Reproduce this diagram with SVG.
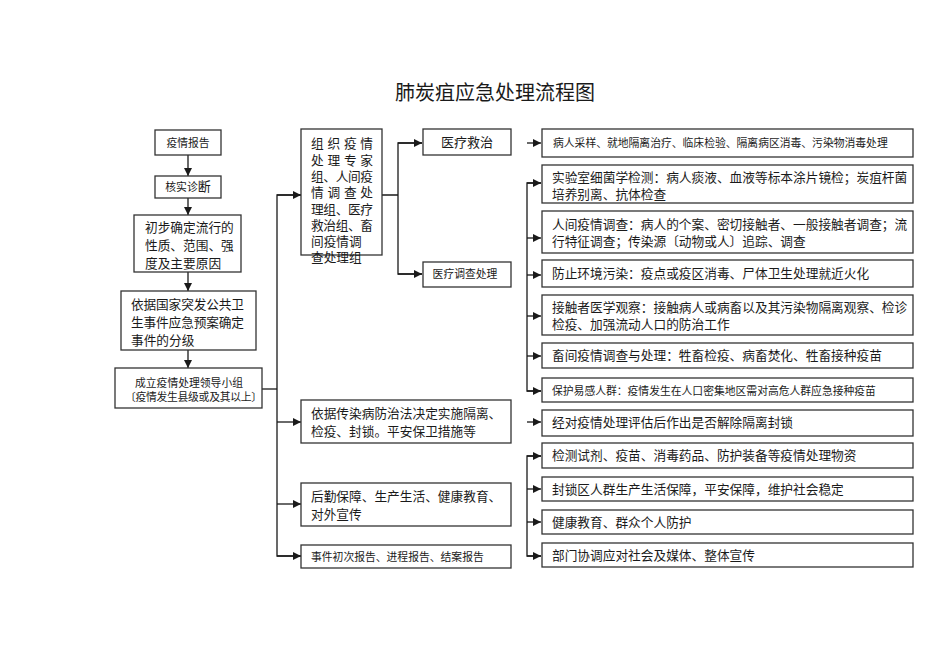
<svg xmlns="http://www.w3.org/2000/svg" width="950" height="672" viewBox="0 0 950 672">
<style>
text{font-family:"Liberation Sans","Noto Sans CJK SC",sans-serif;fill:#1a1a1a}
.b{fill:#fff;stroke:#333;stroke-width:1.3}
.c{fill:none;stroke:#1a1a1a;stroke-width:1.3}
.t13{font-size:12.7px}
.t11{font-size:10.8px}
.mid{text-anchor:middle}
</style>
<defs>
<marker id="ah" markerUnits="userSpaceOnUse" markerWidth="9" markerHeight="8" refX="8" refY="4" orient="auto">
<path d="M0,0 L8,4 L0,8 Z" fill="#1a1a1a"/>
</marker>
</defs>
<rect width="950" height="672" fill="#fff"/>
<text x="495" y="100" class="mid" style="font-size:20px">肺炭疽应急处理流程图</text>

<g id="connectors">
<line class="c" x1="188" y1="155" x2="188" y2="176" marker-end="url(#ah)"/>
<line class="c" x1="188" y1="198" x2="188" y2="215" marker-end="url(#ah)"/>
<line class="c" x1="188" y1="272" x2="188" y2="291" marker-end="url(#ah)"/>
<line class="c" x1="188" y1="350" x2="188" y2="368" marker-end="url(#ah)"/>
<line class="c" x1="262" y1="389" x2="277" y2="389"/>
<path class="c" d="M301,195 H277 V556 H301"/>
<line class="c" x1="277" y1="195" x2="301" y2="195" marker-end="url(#ah)"/>
<line class="c" x1="277" y1="422" x2="301" y2="422" marker-end="url(#ah)"/>
<line class="c" x1="277" y1="504" x2="301" y2="504" marker-end="url(#ah)"/>
<line class="c" x1="277" y1="556" x2="301" y2="556" marker-end="url(#ah)"/>
<path class="c" d="M382,195 H398 M422,143 H398 V274 H422"/>
<line class="c" x1="398" y1="143" x2="422" y2="143" marker-end="url(#ah)"/>
<line class="c" x1="398" y1="274" x2="422" y2="274" marker-end="url(#ah)"/>
<line class="c" x1="527" y1="143" x2="541" y2="143" marker-end="url(#ah)"/>
<path class="c" d="M541,183 H527 V391 H541"/>
<line class="c" x1="527" y1="183" x2="541" y2="183" marker-end="url(#ah)"/>
<line class="c" x1="527" y1="238" x2="541" y2="238" marker-end="url(#ah)"/>
<line class="c" x1="527" y1="275" x2="541" y2="275" marker-end="url(#ah)"/>
<line class="c" x1="527" y1="316" x2="541" y2="316" marker-end="url(#ah)"/>
<line class="c" x1="527" y1="356" x2="541" y2="356" marker-end="url(#ah)"/>
<line class="c" x1="527" y1="391" x2="541" y2="391" marker-end="url(#ah)"/>
<line class="c" x1="527" y1="422" x2="541" y2="422" marker-end="url(#ah)"/>
<path class="c" d="M541,456 H527 V556 H541"/>
<line class="c" x1="527" y1="456" x2="541" y2="456" marker-end="url(#ah)"/>
<line class="c" x1="527" y1="489" x2="541" y2="489" marker-end="url(#ah)"/>
<line class="c" x1="527" y1="522" x2="541" y2="522" marker-end="url(#ah)"/>
<line class="c" x1="527" y1="556" x2="541" y2="556" marker-end="url(#ah)"/>
</g>

<g id="n-report"><rect class="b" x="155" y="130" width="66" height="25"/><text x="188" y="146.5" class="t11 mid">疫情报告</text></g>
<g id="n-diagnose"><rect class="b" x="155" y="176" width="66" height="22"/><text x="188" y="191" class="t11 mid">核实诊<tspan style="font-size:13px">断</tspan></text></g>
<g id="n-prelim"><rect class="b" x="134" y="215" width="107" height="57"/>
<text class="t13" x="145" y="232">初步确定流行的</text><text class="t13" x="145" y="250">性质、范围、强</text><text class="t13" x="145" y="268">度及主要原因</text></g>
<g id="n-grade"><rect class="b" x="121" y="291" width="135" height="59"/>
<text class="t13" x="131" y="309" textLength="113" lengthAdjust="spacing">依据国家突发公共卫</text><text class="t13" x="131" y="327" textLength="113" lengthAdjust="spacing">生事件应急预案确定</text><text class="t13" x="131" y="345">事件的分级</text></g>
<g id="n-leader"><rect class="b" x="115" y="368" width="147" height="40"/>
<text class="t11 mid" x="189" y="387">成立疫情处理领导小组</text><text class="t11" x="125" y="401" textLength="137" lengthAdjust="spacing">〔疫情发生县级或及其以上〕</text></g>

<g id="n-groups"><rect class="b" x="301" y="129" width="81" height="126"/>
<text class="t13" x="311" y="148" textLength="62" lengthAdjust="spacing">组织疫情</text>
<text class="t13" x="311" y="165" textLength="62" lengthAdjust="spacing">处理专家</text>
<text class="t13" x="311" y="181" textLength="62" lengthAdjust="spacing">组、人间疫</text>
<text class="t13" x="311" y="197" textLength="62" lengthAdjust="spacing">情调查处</text>
<text class="t13" x="311" y="214" textLength="62" lengthAdjust="spacing">理组、医疗</text>
<text class="t13" x="311" y="230" textLength="62" lengthAdjust="spacing">救治组、畜</text>
<text class="t13" x="311" y="246">间疫情调</text>
<text class="t13" x="311" y="262">查处理组</text></g>
<g id="n-treat"><rect class="b" x="423" y="129" width="88" height="26"/><text class="mid" style="font-size:13px" x="467" y="147">医疗救治</text></g>
<g id="n-invest"><rect class="b" x="423" y="262" width="88" height="25"/><text class="t11 mid" x="465" y="278">医疗调查处理</text></g>
<g id="n-law"><rect class="b" x="301" y="400" width="210" height="43"/>
<text class="t13" x="311" y="418">依据传染病防治法决定实施隔离、</text><text class="t13" x="311" y="436">检疫、封锁。平安保卫措施等</text></g>
<g id="n-logistics"><rect class="b" x="301" y="483" width="210" height="43"/>
<text class="t13" x="311" y="501">后勤保障、生产生活、健康教育、</text><text class="t13" x="311" y="519">对外宣传</text></g>
<g id="n-reports"><rect class="b" x="301" y="545" width="210" height="23"/><text class="t11" x="311" y="561">事件初次报告、进程报告、结案报告</text></g>

<g id="r1"><rect class="b" x="542" y="129" width="371" height="28"/><text class="t11" x="553" y="147">病人采样、就地隔离治疗、临床检验、隔离病区消毒、污染物消毒处理</text></g>
<g id="r2"><rect class="b" x="542" y="165" width="371" height="38"/><text class="t13" x="552" y="182">实验室细菌学检测：病人痰液、血液等标本涂片镜检；炭疽杆菌</text><text class="t13" x="552" y="199">培养别离、抗体检查</text></g>
<g id="r3"><rect class="b" x="542" y="211" width="371" height="42"/><text class="t13" x="552" y="229">人间疫情调查：病人的个案、密切接触者、一般接触者调查；流</text><text class="t13" x="552" y="246">行特征调查；传染源〔动物或人〕追踪、调查</text></g>
<g id="r4"><rect class="b" x="542" y="260" width="371" height="27"/><text class="t13" x="552" y="278">防止环境污染：疫点或疫区消毒、尸体卫生处理就近火化</text></g>
<g id="r5"><rect class="b" x="542" y="295" width="371" height="40"/><text class="t13" x="552" y="312">接触者医学观察：接触病人或病畜以及其污染物隔离观察、检诊</text><text class="t13" x="552" y="329">检疫、加强流动人口的防治工作</text></g>
<g id="r6"><rect class="b" x="542" y="343" width="371" height="25"/><text class="t13" x="552" y="360">畜间疫情调查与处理：牲畜检疫、病畜焚化、牲畜接种疫苗</text></g>
<g id="r7"><rect class="b" x="542" y="378" width="371" height="24"/><text class="t11" x="552" y="395">保护易感人群：疫情发生在人口密集地区需对高危人群应急接种疫苗</text></g>
<g id="r8"><rect class="b" x="542" y="410" width="371" height="26"/><text class="t13" x="552" y="427">经对疫情处理评估后作出是否解除隔离封锁</text></g>
<g id="r9"><rect class="b" x="542" y="443" width="371" height="25"/><text class="t13" x="552" y="460">检测试剂、疫苗、消毒药品、防护装备等疫情处理物资</text></g>
<g id="r10"><rect class="b" x="542" y="477" width="371" height="24"/><text class="t13" x="552" y="494">封锁区人群生产生活保障，平安保障，维护社会稳定</text></g>
<g id="r11"><rect class="b" x="542" y="510" width="371" height="24"/><text class="t13" x="552" y="527">健康教育、群众个人防护</text></g>
<g id="r12"><rect class="b" x="542" y="543" width="371" height="24"/><text class="t13" x="552" y="560">部门协调应对社会及媒体、整体宣传</text></g>
</svg>
